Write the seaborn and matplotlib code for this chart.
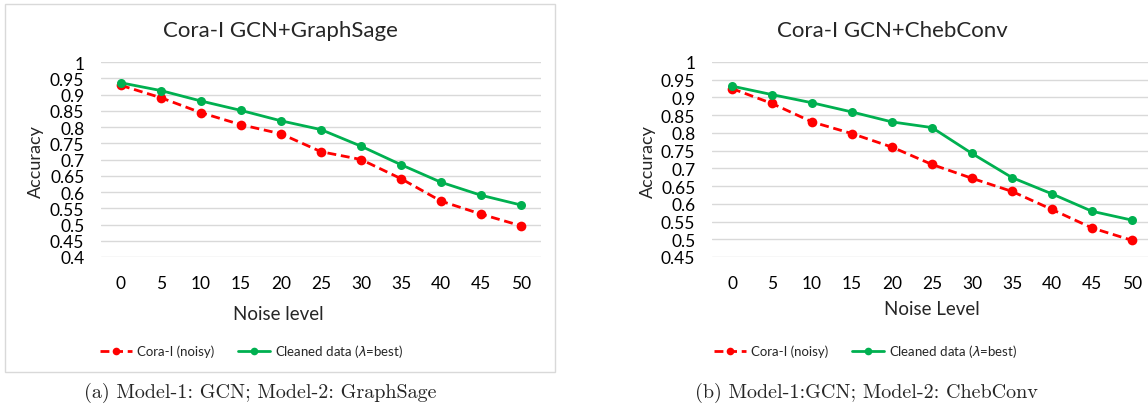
import matplotlib
matplotlib.use("Agg")
import matplotlib.pyplot as plt
from matplotlib.patches import Rectangle
from matplotlib.lines import Line2D
import seaborn as sns
import numpy as np

noise_levels = [0, 5, 10, 15, 20, 25, 30, 35, 40, 45, 50]

sage_noisy = [0.928, 0.890, 0.844, 0.807, 0.779, 0.724, 0.700, 0.641, 0.572, 0.532, 0.496]
sage_clean = [0.936, 0.912, 0.880, 0.851, 0.819, 0.792, 0.741, 0.684, 0.630, 0.590, 0.560]

cheb_noisy = [0.925, 0.883, 0.831, 0.798, 0.760, 0.711, 0.672, 0.635, 0.584, 0.532, 0.497]
cheb_clean = [0.932, 0.908, 0.885, 0.859, 0.831, 0.815, 0.742, 0.674, 0.628, 0.579, 0.554]

sage_yticks = [0.4, 0.45, 0.5, 0.55, 0.6, 0.65, 0.7, 0.75, 0.8, 0.85, 0.9, 0.95, 1.0]
sage_ylabels = ["0.4", "0.45", "0.5", "0.55", "0.6", "0.65", "0.7", "0.75", "0.8", "0.85", "0.9", "0.95", "1"]
cheb_yticks = [0.45, 0.5, 0.55, 0.6, 0.65, 0.7, 0.75, 0.8, 0.85, 0.9, 0.95, 1.0]
cheb_ylabels = ["0.45", "0.5", "0.55", "0.6", "0.65", "0.7", "0.75", "0.8", "0.85", "0.9", "0.95", "1"]

titles = ["Cora-I GCN+GraphSage", "Cora-I GCN+ChebConv"]
xlabels = ["Noise level", "Noise Level"]
ylabel = "Accuracy"
series_names = ["Cora-I (noisy)", "Cleaned data ($\\lambda$=best)"]
captions = ["(a) Model-1: GCN; Model-2: GraphSage", "(b) Model-1:GCN; Model-2: ChebConv"]

sns.set_style("white")
plt.rcParams["font.family"] = ["Lato", "DejaVu Sans"]
plt.rcParams["lines.dashed_pattern"] = [3.2, 1.7]

W, H = 1148, 406
fig = plt.figure(figsize=(W / 100, H / 100), dpi=100)


def fx(px):
    return px / W


def fy(py):
    return 1 - py / H


RED = "#ff0000"
GREEN = "#00b050"
GRID = "#d9d9d9"

# left chart frame
fig.patches.append(Rectangle((fx(5), fy(373)), fx(550), 368 / H, transform=fig.transFigure,
                             fill=False, edgecolor=GRID, linewidth=1.0, zorder=0))

panels = [
    dict(left=101, right=541, top=63, bottom=258, ylim=(0.4, 1.0), yticks=sage_yticks, ylabels=sage_ylabels,
         noisy=sage_noisy, clean=sage_clean, title_x=280, xlabel_x=278, xlabel_y=315, ylabel_x=36,
         legend_x=252, caption_x=260),
    dict(left=712, right=1152, top=63, bottom=258, ylim=(0.45, 1.0), yticks=cheb_yticks, ylabels=cheb_ylabels,
         noisy=cheb_noisy, clean=cheb_clean, title_x=892, xlabel_x=932, xlabel_y=310, ylabel_x=648,
         legend_x=866, caption_x=866),
]

for i, p in enumerate(panels):
    ax = fig.add_axes([fx(p["left"]), fy(p["bottom"]), (p["right"] - p["left"]) / W, (p["bottom"] - p["top"]) / H])
    ax.set_facecolor("none")
    sns.lineplot(x=noise_levels, y=p["noisy"], ax=ax, color=RED, linestyle="--", linewidth=2.0,
                 marker="o", markersize=7, markeredgewidth=0, zorder=3)
    sns.lineplot(x=noise_levels, y=p["clean"], ax=ax, color=GREEN, linewidth=2.0,
                 marker="o", markersize=6.5, markeredgewidth=0, zorder=4)
    ax.set_xlim(-2.5, 52.5)
    ax.set_ylim(*p["ylim"])
    ax.set_xticks(noise_levels)
    ax.set_xticklabels([str(v) for v in noise_levels])
    ax.set_yticks(p["yticks"])
    ax.set_yticklabels(p["ylabels"])
    ax.yaxis.grid(True, color=GRID, linewidth=1.0)
    ax.set_axisbelow(True)
    for s in ax.spines.values():
        s.set_visible(False)
    ax.tick_params(axis="both", length=0, labelsize=12.5, colors="black")
    ax.tick_params(axis="y", pad=12)
    ax.tick_params(axis="x", pad=13)
    ax.set_xlabel("")
    ax.set_ylabel("")
    fig.text(fx(p["title_x"]), fy(31), titles[i], ha="center", va="center", fontsize=16)
    fig.text(fx(p["xlabel_x"]), fy(p["xlabel_y"]), xlabels[i], ha="center", va="center", fontsize=13.5)
    fig.text(fx(p["ylabel_x"]), fy(162), ylabel, ha="center", va="center", rotation=90, fontsize=13)
    handles = [
        Line2D([], [], color=RED, linestyle="--", linewidth=2.0, marker="o", markersize=5.5, markeredgewidth=0),
        Line2D([], [], color=GREEN, linewidth=2.0, marker="o", markersize=5.5, markeredgewidth=0),
    ]
    fig.legend(handles, series_names, loc="center", bbox_to_anchor=(fx(p["legend_x"]), fy(352)),
               ncol=2, frameon=False, fontsize=9.5, handlelength=2.4, handletextpad=0.4, columnspacing=1.8,
               numpoints=1)
    fig.text(fx(p["caption_x"]), fy(393), captions[i], ha="center", va="center", fontsize=14.5,
             family=["cmr10", "DejaVu Serif"])

fig.savefig("out.png", dpi=100)
